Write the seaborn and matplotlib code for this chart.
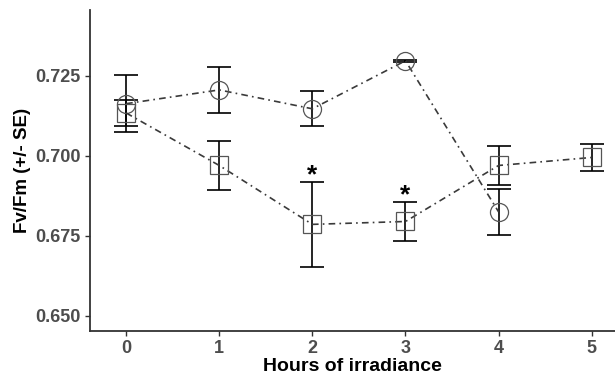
import numpy as np
import pandas as pd
import seaborn as sns
import matplotlib.pyplot as plt

# values
hours_a = [0, 1, 2, 3, 4]
mean_a = [0.7163, 0.7206, 0.7147, 0.7297, 0.6825]
se_a = [0.0090, 0.0073, 0.0055, 0.0003, 0.0071]

hours_b = [0, 1, 2, 3, 4, 5]
mean_b = [0.7134, 0.6970, 0.6786, 0.6795, 0.6970, 0.6995]
se_b = [0.0042, 0.0076, 0.0133, 0.0061, 0.0062, 0.0041]

star_hours = [2, 3]

df = pd.concat([
    pd.DataFrame({"hour": hours_a, "fvfm": mean_a, "se": se_a, "group": "A"}),
    pd.DataFrame({"hour": hours_b, "fvfm": mean_b, "se": se_b, "group": "B"}),
], ignore_index=True)

sns.set_theme(style="white")
plt.rcParams["font.family"] = ["Liberation Sans", "DejaVu Sans"]

fig = plt.figure(figsize=(6.15, 3.8), dpi=100)
ax = fig.add_axes([0.146, 0.129, 0.854, 0.845])

# error bars first, then dash-dot lines with hollow markers
for _, g in df.groupby("group"):
    ax.errorbar(g["hour"], g["fvfm"], yerr=g["se"], fmt="none",
                ecolor="black", elinewidth=1.2, capsize=8.5, capthick=1.2, zorder=2)

sns.lineplot(
    data=df, x="hour", y="fvfm", style="group",
    markers={"A": "o", "B": "s"},
    dashes={"A": (4, 2.5, 1, 2.5), "B": (4, 2.5, 1, 2.5)},
    color="#3a3a3a", linewidth=1.2, markersize=13,
    mfc="none", markeredgecolor="#555555", markeredgewidth=0.9,
    legend=False, ax=ax, zorder=3,
)

# significance marks above the upper cap
for h in star_hours:
    row = df[(df["group"] == "B") & (df["hour"] == h)].iloc[0]
    ax.text(h, row["fvfm"] + row["se"] - 0.0017, "*", ha="center", va="bottom",
            fontsize=19, fontweight="bold", color="black")

ax.set_xlim(-0.39, 5.25)
ax.set_ylim(0.6453, 0.7456)
ax.set_xticks(range(6))
ax.set_yticks([0.650, 0.675, 0.700, 0.725])
ax.set_yticklabels(["0.650", "0.675", "0.700", "0.725"])

sns.despine(ax=ax)
for side in ["left", "bottom"]:
    ax.spines[side].set_color("#333333")
    ax.spines[side].set_linewidth(1.3)

ax.tick_params(axis="both", length=3.5, width=1.0, color="#333333",
               labelsize=13, labelcolor="#4d4d4d", pad=3, bottom=True, left=True)
for lab in ax.get_xticklabels() + ax.get_yticklabels():
    lab.set_fontweight("bold")

ax.set_xlabel("Hours of irradiance", fontsize=14, fontweight="bold", color="black", labelpad=1)
ax.set_ylabel("Fv/Fm (+/- SE)", fontsize=13.5, fontweight="bold", color="black", labelpad=3)

fig.savefig("out.png", dpi=100)
